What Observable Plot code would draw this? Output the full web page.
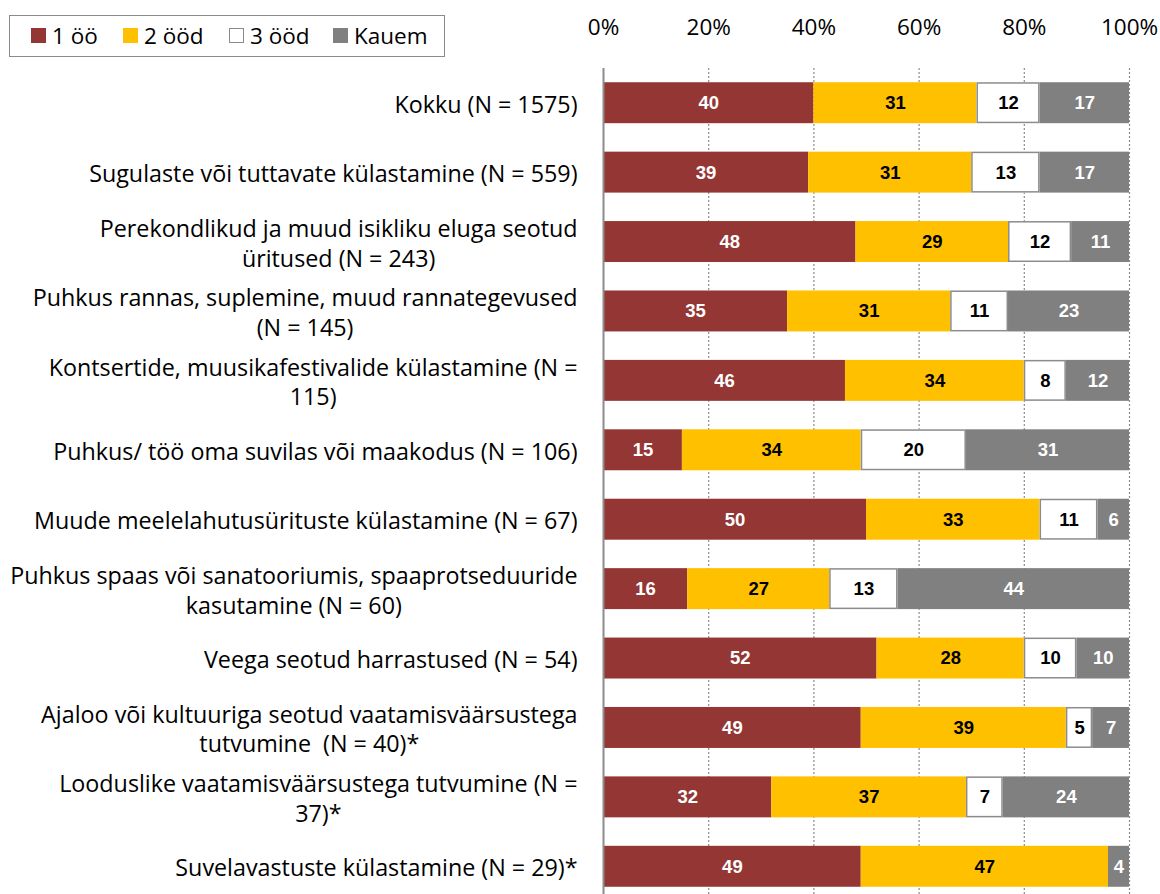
<!DOCTYPE html>
<html>
<head>
<meta charset="utf-8">
<script src="https://cdn.jsdelivr.net/npm/d3@7"></script>
<script src="https://cdn.jsdelivr.net/npm/@observablehq/plot@0.6"></script>
<style>
  html, body { margin: 0; padding: 0; background: #fff; overflow: hidden; }
  #wrap { position: relative; width: 1160px; height: 894px; }
  #legend {
    position: absolute; left: 9px; top: 15px; width: 434px; height: 40px;
    border: 1.5px solid #8a8a8a; background: #fff;
    font-family: "Open Sans", sans-serif; font-size: 22.5px; color: #000;
    box-sizing: content-box;
  }
  #legend .item { display: flex; align-items: center; position: absolute; top: -1px; height: 40px; }
  #legend .sw { width: 15px; height: 15px; margin-right: 6px; box-sizing: border-box; }
</style>
</head>
<body>
<div id="wrap">
  <div id="chart"></div>
  <div id="legend"></div>
</div>
<script>
const categories = [
  "Kokku (N = 1575)",
  "Sugulaste või tuttavate külastamine (N = 559)",
  "Perekondlikud ja muud isikliku eluga seotud\nüritused (N = 243)",
  "Puhkus rannas, suplemine, muud rannategevused\n(N = 145)",
  "Kontsertide, muusikafestivalide külastamine (N =\n115)",
  "Puhkus/ töö oma suvilas või maakodus (N = 106)",
  "Muude meelelahutusürituste külastamine (N = 67)",
  "Puhkus spaas või sanatooriumis, spaaprotseduuride\nkasutamine (N = 60)",
  "Veega seotud harrastused (N = 54)",
  "Ajaloo või kultuuriga seotud vaatamisväärsustega\ntutvumine  (N = 40)*",
  "Looduslike vaatamisväärsustega tutvumine (N =\n37)*",
  "Suvelavastuste külastamine (N = 29)*"
];
const seriesNames = ["1 öö", "2 ööd", "3 ööd", "Kauem"];
const oneNight   = [40, 39, 48, 35, 46, 15, 50, 16, 52, 49, 32, 49];
const twoNights  = [31, 31, 29, 31, 34, 34, 33, 27, 28, 39, 37, 47];
const threeNights= [12, 13, 12, 11,  8, 20, 11, 13, 10,  5,  7,  0];
const longer     = [17, 17, 11, 23, 12, 31,  6, 44, 10,  7, 24,  4];
const seriesColors = ["#943634", "#FFC000", "#FFFFFF", "#808080"];
const xTicks = [0, 20, 40, 60, 80, 100];

const seriesValues = [oneNight, twoNights, threeNights, longer];
const data = [];
categories.forEach((cat, i) => {
  seriesNames.forEach((s, j) => {
    const v = seriesValues[j][i];
    if (v > 0) data.push({cat, series: s, value: v});
  });
});

const labelFont = '"Open Sans", sans-serif';
const labelSize = 23.3;
const ctx = document.createElement("canvas").getContext("2d");
ctx.font = `${labelSize}px ${labelFont}`;
const labelGap = 26;

const labelMarks = categories.map(cat => {
  const w = Math.max(...cat.split("\n").map(l => ctx.measureText(l).width));
  return Plot.text([cat], {
    x: () => 0, y: d => d, text: d => d,
    textAnchor: "middle", dx: -(labelGap + w / 2),
    lineHeight: 1.28, fontSize: labelSize, fontFamily: labelFont, fill: "#000"
  });
});

const stackOpts = {x: "value", y: "cat", z: "series", order: seriesNames};
const whiteText = new Set(["1 öö", "Kauem"]);
const valueFont = '"Liberation Sans", Arial, sans-serif';

const chart = Plot.plot({
  width: 1160,
  height: 894,
  marginLeft: 603,
  marginRight: 31,
  marginTop: 68,
  marginBottom: -7,
  x: {domain: [0, 100], axis: null},
  y: {domain: categories, type: "band", paddingInner: 0.41, paddingOuter: 0.205, round: false, axis: null},
  color: {domain: seriesNames, range: seriesColors},
  style: {background: "white"},
  marks: [
    Plot.ruleX(xTicks.filter(d => d > 0), {stroke: "#8c8c8c", strokeWidth: 1.2, strokeDasharray: "2,2"}),
    Plot.barX(data, Plot.stackX({...stackOpts, fill: "series"})),
    Plot.barX(data, Plot.filter(d => d.series === "3 ööd",
      Plot.stackX({...stackOpts, fill: "none", stroke: "#8c8c8c", strokeWidth: 1.5, inset: 0.75}))),
    Plot.ruleX([0], {stroke: "#8c8c8c", strokeWidth: 2}),
    Plot.text(data, Plot.filter(d => whiteText.has(d.series),
      Plot.stackX({...stackOpts, text: "value", fill: "white", fontWeight: "bold",
        fontSize: 18.5, fontFamily: valueFont}))),
    Plot.text(data, Plot.filter(d => !whiteText.has(d.series),
      Plot.stackX({...stackOpts, text: "value", fill: "black", fontWeight: "bold",
        fontSize: 18.5, fontFamily: valueFont}))),
    Plot.axisX({anchor: "top", ticks: xTicks, tickFormat: d => d + "%", tickSize: 0,
      tickPadding: 34, label: null, fontSize: 22.5, fontFamily: labelFont, fill: "#000"}),
    ...labelMarks
  ]
});
document.getElementById("chart").appendChild(chart);

// Legend
const legend = document.getElementById("legend");
const legendX = [21, 113, 219, 323];
seriesNames.forEach((s, j) => {
  const item = document.createElement("div");
  item.className = "item";
  item.style.left = legendX[j] + "px";
  const sw = document.createElement("div");
  sw.className = "sw";
  sw.style.background = seriesColors[j];
  if (s === "3 ööd") sw.style.border = "1.5px solid #8a8a8a";
  const t = document.createElement("span");
  t.textContent = s;
  item.appendChild(sw);
  item.appendChild(t);
  legend.appendChild(item);
});
</script>
</body>
</html>
